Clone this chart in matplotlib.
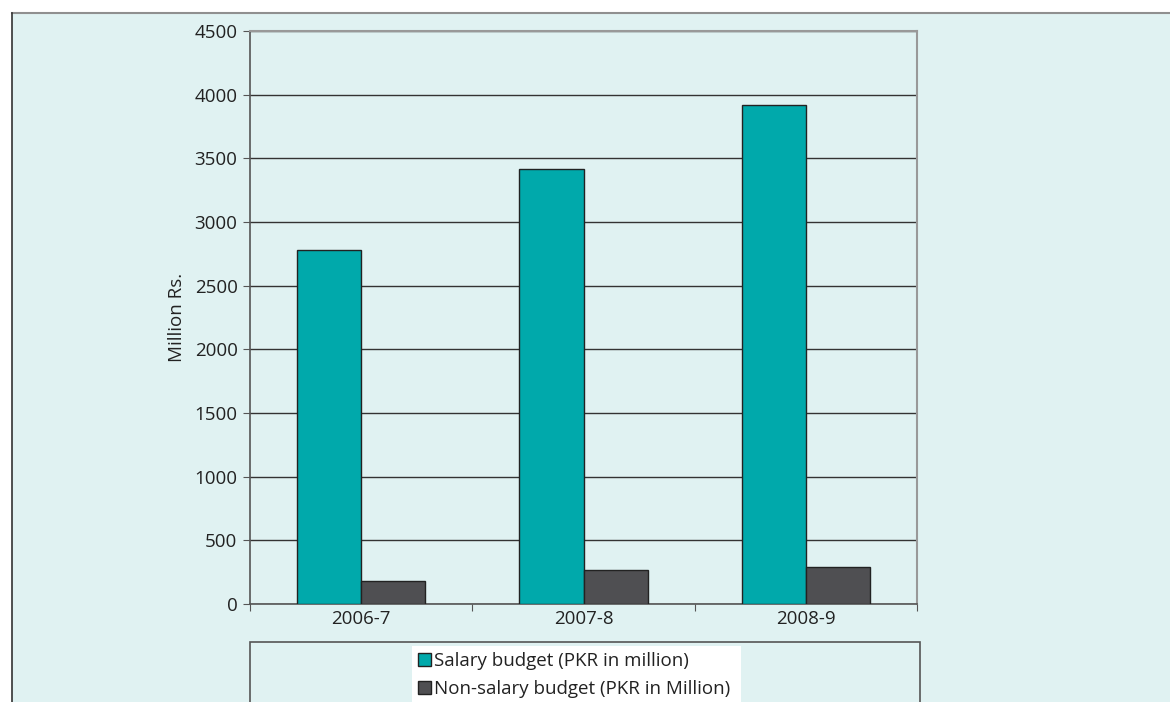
import numpy as np
import matplotlib.pyplot as plt
from matplotlib.patches import Rectangle, Patch
from matplotlib.lines import Line2D

plt.rcParams['font.family'] = ['Open Sans', 'DejaVu Sans']

years = ['2006-7', '2007-8', '2008-9']
salary = [2780, 3416, 3919]
non_salary = [181, 267, 290]
series_labels = ['Salary budget (PKR in million)', 'Non-salary budget (PKR in Million)']
yticks = [0, 500, 1000, 1500, 2000, 2500, 3000, 3500, 4000, 4500]

bg = '#e0f2f2'
teal = '#00a9ab'
dark = '#4f4f52'

W, H = 1170, 702
fig = plt.figure(figsize=(W / 100, H / 100), dpi=100)
fig.patch.set_facecolor('white')

# pixel coords -> figure fraction
fx = lambda px: px / W
fy = lambda py: 1 - py / H

# outer panel background and borders
fig.patches.append(Rectangle((fx(12), 0), 1 - fx(12), fy(13), transform=fig.transFigure,
                             facecolor=bg, edgecolor='none', zorder=-5))
fig.lines.append(Line2D([fx(12), 1], [fy(13), fy(13)], transform=fig.transFigure,
                        color='#8f8f8f', lw=1.5, zorder=-4))
fig.lines.append(Line2D([fx(12), fx(12)], [0, fy(13)], transform=fig.transFigure,
                        color='#333333', lw=1.2, zorder=-4))

ax = fig.add_axes([fx(250), fy(604), fx(917) - fx(250), fy(31) - fy(604)])
ax.set_zorder(2)
ax.set_facecolor('none')

x = np.arange(len(years))
w = 0.288
ax.bar(x - w / 2, salary, w, color=teal, edgecolor='#222222', linewidth=1.0, zorder=3)
ax.bar(x + w / 2, non_salary, w, color=dark, edgecolor='#222222', linewidth=1.0, zorder=3)

ax.set_xlim(-0.5, len(years) - 0.5)
ax.set_ylim(0, 4500)
ax.set_yticks(yticks)
ax.set_yticklabels([str(v) for v in yticks], fontsize=13.5, color='#222222')
ax.yaxis.grid(True, color='#333333', linewidth=1.0)
ax.set_axisbelow(True)

ax.set_xticks(np.arange(-0.5, len(years), 1.0))
ax.set_xticklabels([])
ax.set_xticks(x, minor=True)
ax.set_xticklabels(years, minor=True, fontsize=13.5, color='#222222')
ax.tick_params(axis='x', which='minor', length=0, pad=4)
ax.tick_params(axis='x', which='major', length=5, color='#555555', direction='out')
ax.tick_params(axis='y', length=5, color='#555555', pad=4)

ax.set_ylabel('Million Rs.', fontsize=13.5, color='#222222', labelpad=6)

for s in ['top', 'right']:
    ax.spines[s].set_color('#999999')
    ax.spines[s].set_linewidth(1.5)
for s in ['left', 'bottom']:
    ax.spines[s].set_color('#555555')
    ax.spines[s].set_linewidth(1.2)

# legend box
fig.patches.append(Rectangle((fx(250), fy(712)), fx(920) - fx(250), fy(642) - fy(712),
                             transform=fig.transFigure, facecolor='none',
                             edgecolor='#555555', lw=1.2, zorder=-3))
fig.patches.append(Rectangle((fx(412), fy(710)), fx(741) - fx(412), fy(646) - fy(710),
                             transform=fig.transFigure, facecolor='white',
                             edgecolor='none', zorder=-3))
handles = [Patch(facecolor=teal, edgecolor='#222222'), Patch(facecolor=dark, edgecolor='#222222')]
leg = fig.legend(handles, series_labels, loc='upper left',
                 bbox_to_anchor=(fx(414), fy(648)), frameon=False, fontsize=13.5,
                 handlelength=0.68, handleheight=0.68, handletextpad=0.2,
                 labelspacing=0.55, borderpad=0.2, borderaxespad=0)
for t in leg.get_texts():
    t.set_color('#222222')

fig.savefig('out.png', dpi=100)
